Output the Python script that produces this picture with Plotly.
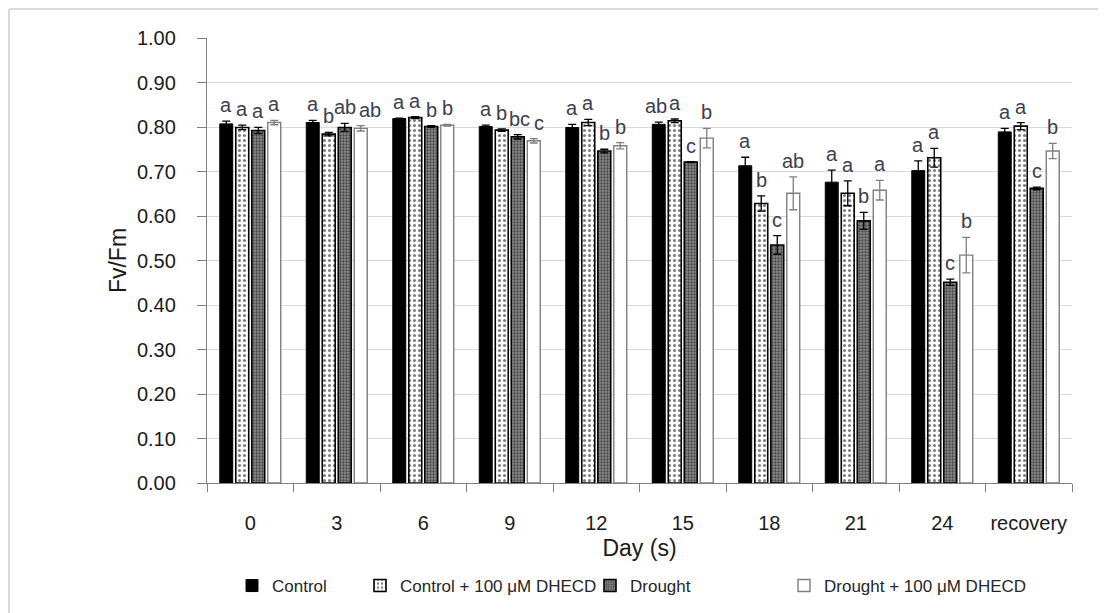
import plotly.graph_objects as go

days = ["0", "3", "6", "9", "12", "15", "18", "21", "24", "recovery"]

control = [0.807, 0.810, 0.819, 0.801, 0.799, 0.806, 0.713, 0.676, 0.702, 0.789]
control_err = [0.006, 0.005, 0.001, 0.003, 0.007, 0.005, 0.019, 0.027, 0.022, 0.008]
control_let = ["a", "a", "a", "a", "a", "ab", "a", "a", "a", "a"]

control_dh = [0.799, 0.784, 0.821, 0.793, 0.810, 0.814, 0.628, 0.651, 0.731, 0.802]
control_dh_err = [0.005, 0.004, 0.002, 0.003, 0.007, 0.004, 0.017, 0.028, 0.021, 0.008]
control_dh_let = ["a", "b", "a", "b", "a", "a", "b", "a", "a", "a"]

drought = [0.792, 0.799, 0.801, 0.778, 0.746, 0.721, 0.535, 0.589, 0.451, 0.662]
drought_err = [0.007, 0.009, 0.002, 0.005, 0.004, 0.001, 0.021, 0.019, 0.007, 0.003]
drought_let = ["a", "ab", "b", "bc", "b", "c", "c", "b", "c", "c"]

drought_dh = [0.810, 0.797, 0.804, 0.769, 0.758, 0.775, 0.651, 0.658, 0.512, 0.746]
drought_dh_err = [0.005, 0.006, 0.002, 0.005, 0.007, 0.022, 0.037, 0.022, 0.040, 0.017]
drought_dh_let = ["a", "ab", "b", "c", "b", "b", "ab", "a", "b", "b"]

names = ["Control", "Control + 100 μM DHECD", "Drought", "Drought + 100 μM DHECD"]

FONT = "Liberation Sans, Arial, sans-serif"
OFF = 8  # page body margin
W, H = 1106 - OFF, 613 - OFF
# plot area in page pixels: x 207..1072, y 38..483
ML, MT = 207 - OFF, 38 - OFF
MR, MB = 1106 - 1072, 613 - 483
PW = W - ML - MR
PH = H - MT - MB
BARGAP = 0.26


def pxx(page_x):
    return (page_x - OFF - ML) / PW


def pxy(page_y):
    return (483 - page_y) / PH


styles = [
    dict(color="black", line=dict(color="black", width=1)),
    dict(color="white", line=dict(color="black", width=1.6),
         pattern=dict(shape=".", fgcolor="black", bgcolor="white", size=5, solidity=0.3)),
    dict(color="#808080", line=dict(color="black", width=1.6),
         pattern=dict(shape=".", fgcolor="black", bgcolor="#8c8c8c", size=3, solidity=0.45)),
    dict(color="white", line=dict(color="#7f7f7f", width=1.4)),
]
err_colors = ["black", "black", "black", "#7f7f7f"]

series = [(control, control_err, control_let),
          (control_dh, control_dh_err, control_dh_let),
          (drought, drought_err, drought_let),
          (drought_dh, drought_dh_err, drought_dh_let)]

legend_ids = ["legend", "legend2", "legend3", "legend4"]

fig = go.Figure()
for k, ((vals, errs, lets), nm) in enumerate(zip(series, names)):
    fig.add_trace(go.Bar(
        x=days, y=vals, name=nm, marker=styles[k],
        error_y=dict(type="data", array=errs, visible=True, color=err_colors[k],
                     thickness=1.3, width=4),
        legend=legend_ids[k],
    ))

# small horizontal nudges (px) for crowded letter labels: (series, day index) -> px
nudges = {(3, 1): 9, (2, 3): 2, (3, 3): 5, (0, 5): -3}

slot = PW / len(days) * (1 - BARGAP) / 4
annotations = []
for k, (vals, errs, lets) in enumerate(series):
    for i, d in enumerate(days):
        annotations.append(dict(
            x=i, y=vals[i] + errs[i], text=lets[i], showarrow=False,
            xref="x", yref="y", yanchor="bottom",
            xshift=(k - 1.5) * slot + nudges.get((k, i), 0), yshift=3,
            font=dict(family=FONT, size=20, color="#3c4050"),
        ))

# legend placement (swatch centres in page px)
leg_centres = [251, 379, 609, 803]
legends = {}
for lid, c in zip(legend_ids, leg_centres):
    legends[lid] = dict(
        x=pxx(c - 19), xanchor="left", y=pxy(586), yanchor="middle",
        orientation="h", font=dict(family=FONT, size=17, color="#262626"),
        bgcolor="rgba(0,0,0,0)", borderwidth=0, visible=True,
    )

frame_top = pxy(OFF + 1)
frame_left = pxx(OFF + 1)
shapes = [
    dict(type="line", xref="paper", yref="paper", x0=frame_left, x1=pxx(1106),
         y0=frame_top, y1=frame_top, line=dict(color="#d9d9d9", width=2)),
    dict(type="line", xref="paper", yref="paper", x0=frame_left, x1=frame_left,
         y0=frame_top, y1=pxy(613), line=dict(color="#d9d9d9", width=2)),
]

fig.update_layout(
    width=W, height=H, margin=dict(l=ML, r=MR, t=MT, b=MB, pad=0, autoexpand=False),
    paper_bgcolor="white", plot_bgcolor="white",
    barmode="group", bargap=BARGAP, bargroupgap=0.19,
    font=dict(family=FONT, color="#262626"),
    annotations=annotations, shapes=shapes, showlegend=True,
    **legends,
)
fig.update_xaxes(
    type="category", tickson="boundaries", ticks="outside", ticklen=8,
    tickcolor="#7f7f7f", showline=True, linecolor="#7f7f7f", linewidth=1.3,
    showgrid=False, tickfont=dict(family=FONT, size=20, color="#1a1a1a"),
    ticklabelstandoff=22, tickangle=0, range=[-0.5, 9.5],
    title=dict(text="Day (s)", font=dict(family=FONT, size=23, color="#1a1a1a"), standoff=6),
)
fig.update_yaxes(
    range=[0, 1], dtick=0.1, tickformat=".2f", ticks="outside", ticklen=9,
    tickcolor="#7f7f7f", showline=True, linecolor="#7f7f7f", linewidth=1.3,
    showgrid=True, gridcolor="#d9d9d9", gridwidth=1, zeroline=False,
    tickfont=dict(family=FONT, size=20, color="#1a1a1a"),
    ticklabelstandoff=17,
    title=dict(text="Fv/Fm", font=dict(family=FONT, size=23, color="#1a1a1a"), standoff=3),
)

fig.write_html("out.html")
